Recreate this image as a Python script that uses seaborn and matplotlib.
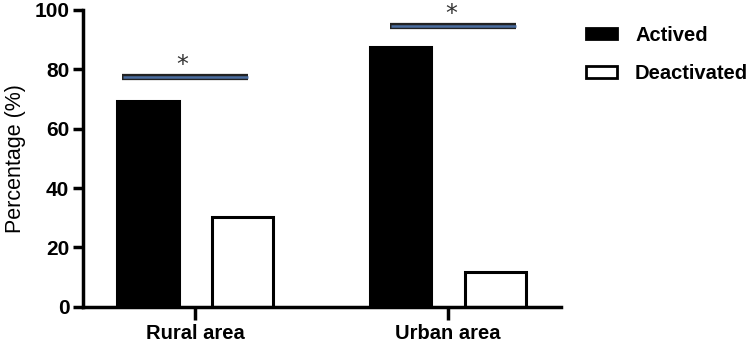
import matplotlib
matplotlib.use("Agg")
import matplotlib.pyplot as plt
import pandas as pd
import seaborn as sns

# Data
areas = ["Rural area", "Urban area"]
status = ["Actived", "Deactivated"]
actived = [69.2, 87.6]
deactivated = [30.4, 11.8]

# significance markers (one per area)
sig_level = [77.4, 94.7]
sig_start = [-0.29, -0.23]
sig_end = [0.21, 0.27]
sig_star_x = [-0.05, 0.012]
sig_label = ["*", "*"]

df = pd.DataFrame({
    "area": areas * 2,
    "status": [status[0]] * 2 + [status[1]] * 2,
    "pct": actived + deactivated,
})

sns.set_style("ticks")
plt.rcParams["font.family"] = ["Liberation Sans", "DejaVu Sans"]
plt.rcParams["text.color"] = "black"
plt.rcParams["axes.labelcolor"] = "black"
plt.rcParams["xtick.color"] = "black"
plt.rcParams["ytick.color"] = "black"

fig = plt.figure(figsize=(7.5, 3.44), dpi=100)
ax = fig.add_axes([0.111, 0.108, 0.637, 0.863])

sns.barplot(data=df, x="area", y="pct", hue="status", order=areas, hue_order=status,
            palette={"Actived": "black", "Deactivated": "white"},
            width=0.75, gap=0.35, edgecolor="black", linewidth=2.2,
            saturation=1, ax=ax)

# significance bars with asterisks
for i in range(len(areas)):
    ax.plot([i + sig_start[i], i + sig_end[i]], [sig_level[i]] * 2,
            color="#222222", lw=4.5, solid_capstyle="butt", zorder=4, clip_on=False)
    ax.plot([i + sig_start[i] + 0.003, i + sig_end[i] - 0.003], [sig_level[i]] * 2,
            color="#4a6da0", lw=1.8, solid_capstyle="butt", zorder=5, clip_on=False)
    ax.text(i + sig_star_x[i], sig_level[i] + 4.0, sig_label[i], family="DejaVu Sans",
            ha="center", va="center", fontsize=17, color="#333333", clip_on=False)

ax.set_xlim(-0.443, 1.447)
ax.set_ylim(0, 100)
ax.set_yticks([0, 20, 40, 60, 80, 100])
ax.set_xlabel("")
ax.set_ylabel("Percentage (%)", fontsize=15.5, labelpad=6)

for s in ["top", "right"]:
    ax.spines[s].set_visible(False)
for s in ["left", "bottom"]:
    ax.spines[s].set_linewidth(2.5)
    ax.spines[s].set_color("black")
ax.tick_params(axis="y", length=7, width=2.5, labelsize=15, pad=3)
ax.tick_params(axis="x", length=9, width=2.5, labelsize=14.5, pad=3)
for lbl in ax.get_xticklabels() + ax.get_yticklabels():
    lbl.set_fontweight("bold")

ax.legend_.remove()
handles = [plt.Rectangle((0, 0), 1, 1, facecolor=c, edgecolor="black", linewidth=2)
           for c in ["black", "white"]]
leg = fig.legend(handles, status, loc="upper left", bbox_to_anchor=(0.781, 0.925),
                 frameon=False, prop={"weight": "bold", "size": 14.5},
                 borderpad=0, borderaxespad=0,
                 handlelength=1.55, handleheight=0.5, labelspacing=0.95, handletextpad=0.9)

fig.savefig("out.png", dpi=100)
